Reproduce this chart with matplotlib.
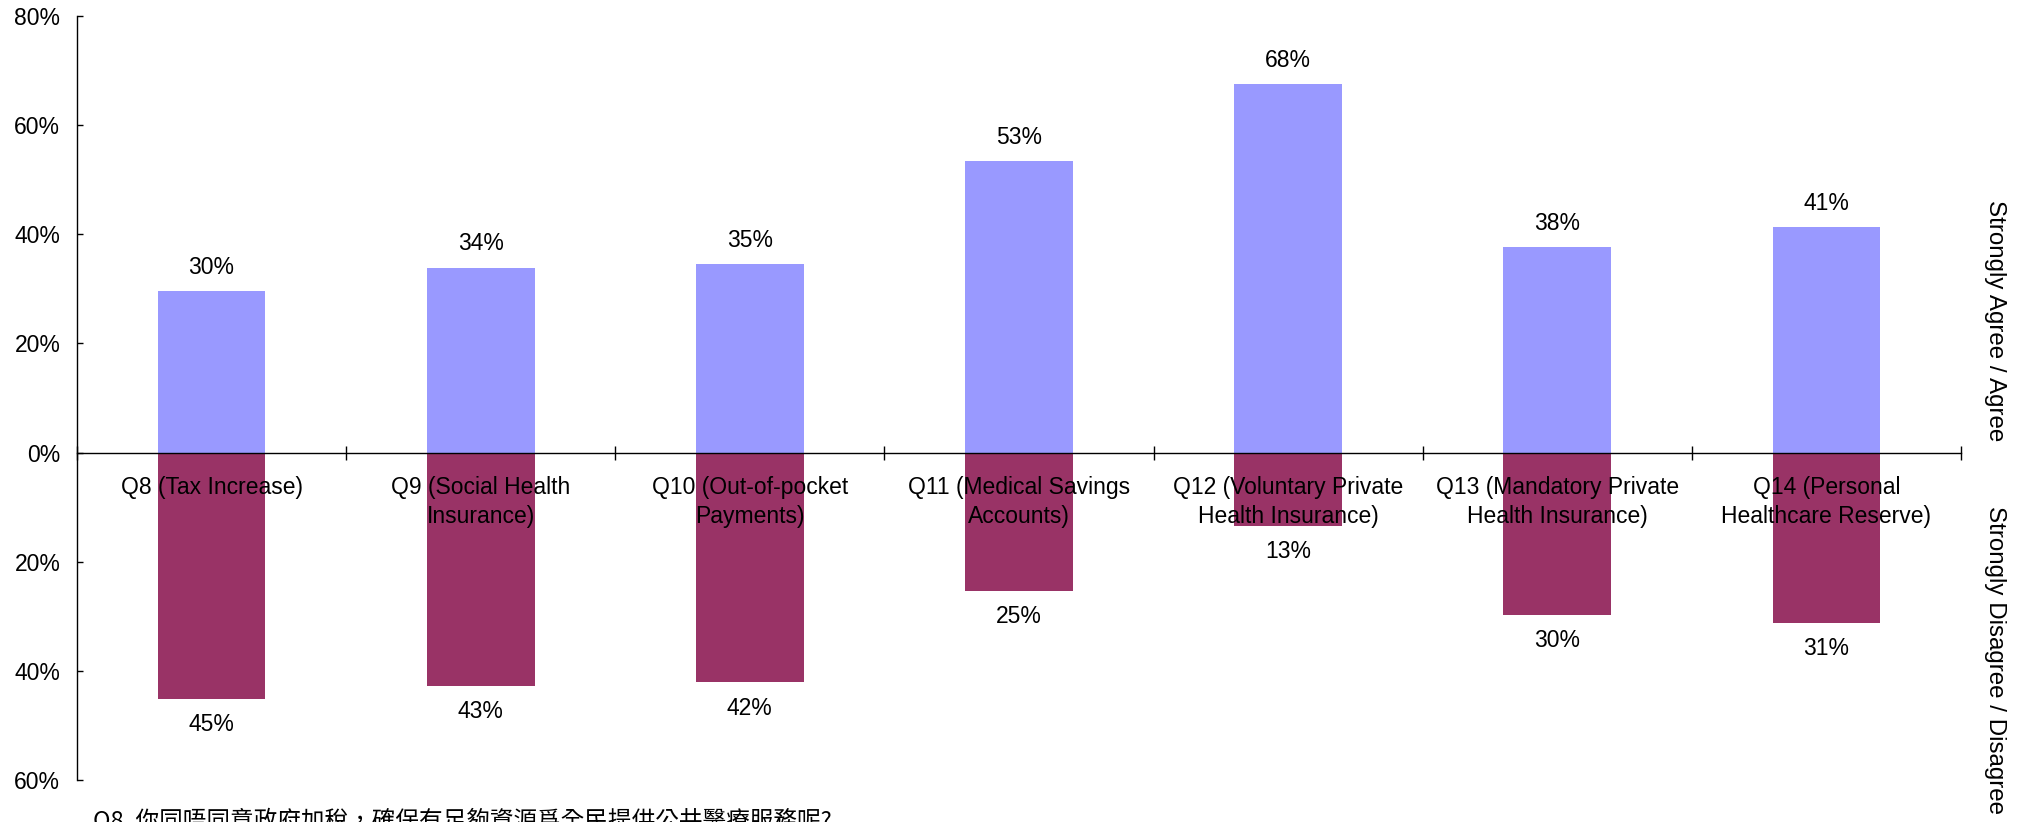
import numpy as np
import matplotlib
matplotlib.use('Agg')
import matplotlib.pyplot as plt
from matplotlib.ticker import FixedLocator, FuncFormatter

plt.rcParams['font.family'] = ['Liberation Sans', 'DejaVu Sans']

categories = ['Q8 (Tax Increase)', 'Q9 (Social Health\nInsurance)',
              'Q10 (Out-of-pocket\nPayments)', 'Q11 (Medical Savings\nAccounts)',
              'Q12 (Voluntary Private\nHealth Insurance)',
              'Q13 (Mandatory Private\nHealth Insurance)',
              'Q14 (Personal\nHealthcare Reserve)']
agree = [29.6, 33.9, 34.6, 53.4, 67.6, 37.7, 41.3]
disagree = [45.2, 42.7, 42.1, 25.4, 13.4, 29.8, 31.2]
y_ticks = [-60, -40, -20, 0, 20, 40, 60, 80]
footnote = 'Q8. 你同唔同意政府加稅，確保有足夠資源爲全民提供公共醫療服務呢?'

fig = plt.figure(figsize=(20.24, 8.22), dpi=100)
ax = fig.add_axes([77 / 2024, 1 - 780 / 822, (1961 - 77) / 2024, (780 - 16) / 822])

x = np.arange(len(categories)) + 0.5
ax.bar(x, agree, width=0.4, color='#9999FF', zorder=1)
ax.bar(x, [-d for d in disagree], width=0.4, color='#993366', zorder=1)

for xi, a, d in zip(x, agree, disagree):
    ax.annotate(f'{a:.0f}%', (xi, a), xytext=(0, 17), textcoords='offset points',
                ha='center', va='center', fontsize=16.5)
    ax.annotate(f'{d:.0f}%', (xi, -d), xytext=(0, -18.5), textcoords='offset points',
                ha='center', va='center', fontsize=16.5)

ax.set_xlim(0, len(categories))
ax.set_ylim(-60, 80)

# spines
ax.spines['top'].set_visible(False)
ax.spines['right'].set_visible(False)
ax.spines['bottom'].set_position(('data', 0))
ax.spines['bottom'].set_linewidth(1.0)
ax.spines['left'].set_linewidth(1.0)

ax.yaxis.set_major_locator(FixedLocator(y_ticks))
ax.yaxis.set_major_formatter(FuncFormatter(lambda v, p: f'{abs(v):.0f}%'))
ax.tick_params(axis='y', direction='in', length=4, width=1, pad=12, labelsize=16.5)

ax.set_xticks(x)
ax.set_xticklabels(categories, fontsize=16.5, linespacing=1.35)
ax.set_xticks(np.arange(len(categories) + 1), minor=True)
ax.tick_params(axis='x', which='major', length=0, pad=17)
ax.tick_params(axis='x', which='minor', direction='inout', length=10, width=1)

fig.text(1995 / 2024, 1 - 200 / 822, 'Strongly Agree / Agree', rotation=-90,
         ha='center', va='top', fontsize=17.4)
fig.text(1995 / 2024, 1 - 506 / 822, 'Strongly Disagree / Disagree', rotation=-90,
         ha='center', va='top', fontsize=17.4)
fig.text(93 / 2024, 1 - 808 / 822, footnote, ha='left', va='top', fontsize=17,
         family=['Noto Sans CJK TC', 'Liberation Sans'])

fig.savefig('out.png', dpi=100)
